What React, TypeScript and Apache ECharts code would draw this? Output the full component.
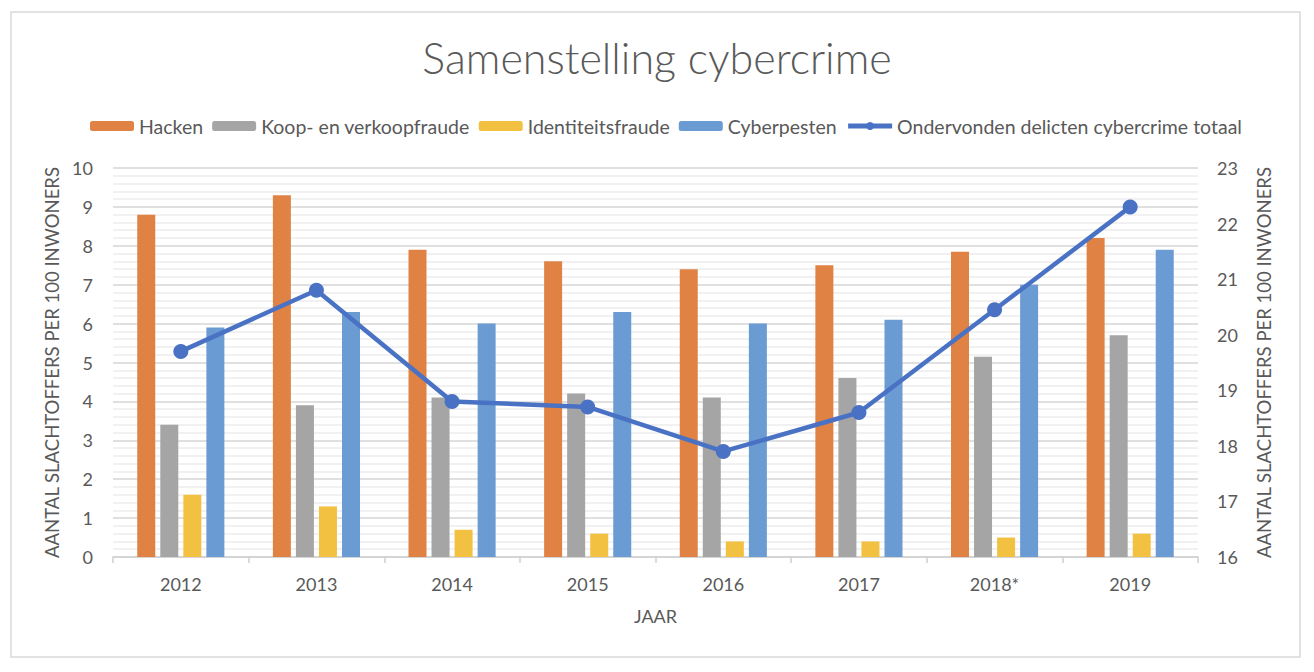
import React, { useEffect, useRef } from "react";
import * as echarts from "echarts";

const years = ["2012", "2013", "2014", "2015", "2016", "2017", "2018*", "2019"];
const hacken = [8.8, 9.3, 7.9, 7.6, 7.4, 7.5, 7.85, 8.2];
const koop = [3.4, 3.9, 4.1, 4.2, 4.1, 4.6, 5.15, 5.7];
const identiteit = [1.6, 1.3, 0.7, 0.6, 0.4, 0.4, 0.5, 0.6];
const cyberpesten = [5.9, 6.3, 6.0, 6.3, 6.0, 6.1, 7.0, 7.9];
const totaal = [19.7, 20.8, 18.8, 18.7, 17.9, 18.6, 20.45, 22.3];

const FONT = "Lato";
const TXT = "#595959";

export default function App() {
  const ref = useRef<HTMLDivElement>(null);
  useEffect(() => {
    if (!ref.current) return;
    const chart = echarts.init(ref.current, null, { renderer: "svg" });
    const barBase = { type: "bar", barWidth: 18, barGap: "28%", yAxisIndex: 0 };
    chart.setOption({
      animation: false,
      textStyle: { fontFamily: FONT, color: TXT },
      title: {
        text: "Samenstelling cybercrime",
        left: "center",
        top: 31,
        textStyle: { fontFamily: FONT, fontWeight: 300, fontSize: 43, color: TXT },
      },
      graphic: [
        {
          type: "rect",
          shape: { x: 11, y: 12, width: 1289, height: 645 },
          style: { fill: "none", stroke: "#D9D9D9", lineWidth: 1.5 },
          silent: true,
        },
      ],
      legend: {
        left: 85,
        top: 111,
        itemWidth: 44,
        itemHeight: 10,
        itemGap: 9,
        textStyle: { fontFamily: FONT, fontSize: 19.5, color: TXT },
        data: [
          "Hacken",
          "Koop- en verkoopfraude",
          "Identiteitsfraude",
          "Cyberpesten",
          { name: "Ondervonden delicten cybercrime totaal", lineStyle: { width: 5 } },
        ],
      },
      grid: { left: 113, right: 116, top: 168, bottom: 115 },
      xAxis: {
        type: "category",
        data: years,
        name: "JAAR",
        nameLocation: "middle",
        nameGap: 50,
        nameTextStyle: { fontFamily: FONT, fontSize: 18, color: TXT },
        axisLine: { lineStyle: { color: "#D0D0D0", width: 1.5 } },
        axisTick: { show: true, length: 6, lineStyle: { color: "#D0D0D0", width: 1.5 } },
        axisLabel: { fontFamily: FONT, fontSize: 18, color: TXT, margin: 18 },
      },
      yAxis: [
        {
          type: "value",
          min: 0,
          max: 10,
          interval: 1,
          name: "AANTAL SLACHTOFFERS PER 100 INWONERS",
          nameLocation: "middle",
          nameRotate: 90,
          nameGap: 37,
          nameTextStyle: { fontFamily: FONT, fontSize: 18.5, color: TXT },
          axisLine: { show: false },
          axisTick: { show: false },
          axisLabel: { fontFamily: FONT, fontSize: 18, color: TXT, margin: 20 },
          splitLine: { show: true, lineStyle: { color: "#D6D6D6", width: 1.5 } },
          minorTick: { show: false, splitNumber: 5 },
          minorSplitLine: { show: true, lineStyle: { color: "#ECECEC", width: 1.5 } },
        },
        {
          type: "value",
          min: 16,
          max: 23,
          interval: 1,
          name: "AANTAL SLACHTOFFERS PER 100 INWONERS",
          nameLocation: "middle",
          nameRotate: 90,
          nameGap: 56,
          nameTextStyle: { fontFamily: FONT, fontSize: 18.5, color: TXT },
          axisLine: { show: false },
          axisTick: { show: false },
          axisLabel: { fontFamily: FONT, fontSize: 18, color: TXT, margin: 19 },
          splitLine: { show: false },
        },
      ],
      series: [
        { ...barBase, name: "Hacken", data: hacken, itemStyle: { color: "#DF8244" } },
        { ...barBase, name: "Koop- en verkoopfraude", data: koop, itemStyle: { color: "#A5A5A5" } },
        { ...barBase, name: "Identiteitsfraude", data: identiteit, itemStyle: { color: "#F3C142" } },
        { ...barBase, name: "Cyberpesten", data: cyberpesten, itemStyle: { color: "#6A9BD3" } },
        {
          type: "line",
          name: "Ondervonden delicten cybercrime totaal",
          yAxisIndex: 1,
          data: totaal,
          symbol: "circle",
          symbolSize: 15,
          lineStyle: { color: "#4A72C4", width: 4.5 },
          itemStyle: { color: "#4A72C4" },
          z: 5,
        },
      ],
    });
    return () => chart.dispose();
  }, []);
  return (
    <div
      ref={ref}
      style={{ position: "fixed", left: 0, top: 0, width: 1314, height: 672, background: "#fff" }}
    />
  );
}
